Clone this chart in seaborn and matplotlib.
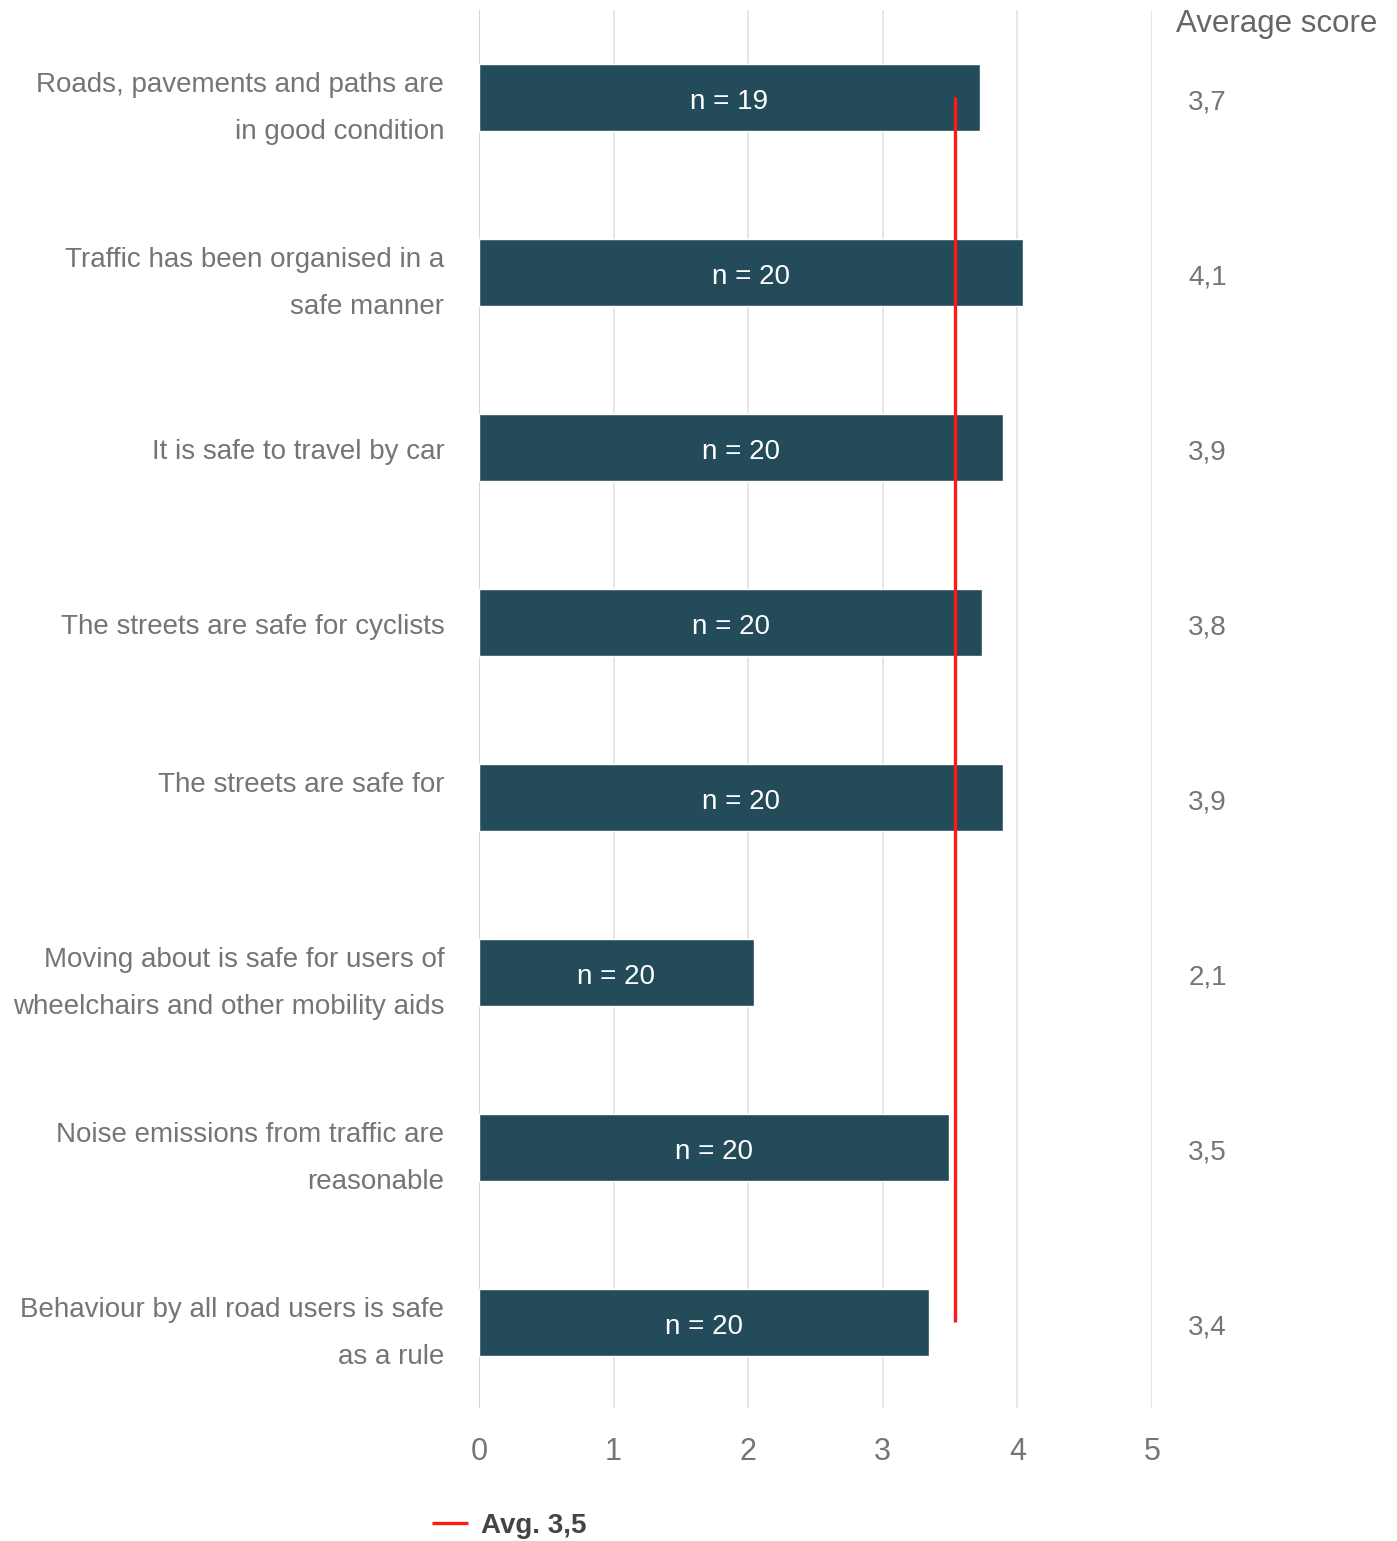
import matplotlib
matplotlib.use("Agg")
import matplotlib.pyplot as plt
import matplotlib.transforms as mtransforms
import seaborn as sns
import pandas as pd

categories = [
    "Roads, pavements and paths are\nin good condition",
    "Traffic has been organised in a\nsafe manner",
    "It is safe to travel by car",
    "The streets are safe for cyclists",
    "The streets are safe for\n",
    "Moving about is safe for users of\nwheelchairs and other mobility aids",
    "Noise emissions from traffic are\nreasonable",
    "Behaviour by all road users is safe\nas a rule",
]
scores = [3.72, 4.04, 3.89, 3.74, 3.89, 2.04, 3.49, 3.34]
score_labels = ["3,7", "4,1", "3,9", "3,8", "3,9", "2,1", "3,5", "3,4"]
n_labels = ["n = 19", "n = 20", "n = 20", "n = 20", "n = 20", "n = 20", "n = 20", "n = 20"]
average = 3.54
average_label = "Avg. 3,5"
x_ticks = [0, 1, 2, 3, 4, 5]

sns.set_theme(style="white")
plt.rcParams["font.family"] = ["Liberation Sans", "DejaVu Sans"]

W, H = 1397, 1541
fig = plt.figure(figsize=(W / 100, H / 100), dpi=100)
ax = fig.add_axes([479 / W, 1 - 1408 / H, (1152 - 479) / W, (1408 - 10) / H])

df = pd.DataFrame({"category": categories, "score": scores})
sns.barplot(data=df, x="score", y="category", orient="h", color="#234b5a",
            saturation=1, width=0.385, ax=ax, zorder=2)

ax.set_xlim(0, 5)
ax.set_ylim(len(categories) - 0.51, -0.5)
ax.set_xticks(x_ticks)
ax.set_xticklabels([str(t) for t in x_ticks], fontsize=22, color="#757575")
ax.set_xlabel("")
ax.set_ylabel("")
for s in ax.spines.values():
    s.set_visible(False)
ax.tick_params(axis="both", length=0)
ax.tick_params(axis="x", pad=21)
ax.tick_params(axis="y", pad=25)

for t in x_ticks:
    ax.axvline(t, color="#c3cfe9" if t == 0 else "#e2e2e2", lw=1.2, zorder=0)

down = mtransforms.ScaledTranslation(0, -5 / 100, fig.dpi_scale_trans)
for lab in ax.get_yticklabels():
    lab.set_fontsize(20)
    lab.set_color("#757575")
    lab.set_linespacing(2.03)
    dy = 2 if "\n" in lab.get_text() else -2
    lab.set_transform(lab.get_transform() +
                      mtransforms.ScaledTranslation(0, dy / 100, fig.dpi_scale_trans))

for i, (v, nl, sl) in enumerate(zip(scores, n_labels, score_labels)):
    ax.text(v / 2, i, nl, ha="center", va="center", color="white", fontsize=20,
            zorder=4, transform=ax.transData + down)
    ax.text(5.27, i, sl, ha="left", va="center", color="#757575", fontsize=20,
            clip_on=False, transform=ax.transData + down)

ax.plot([average, average], [0, len(categories) - 1], color="#ff1a1a", lw=2.4,
        zorder=3, label=average_label, solid_capstyle="butt")

fig.text(1176 / W, 1 - 24 / H, "Average score", ha="left", va="center",
         fontsize=22.5, color="#666666")

leg = fig.legend(loc="center left", bbox_to_anchor=(432 / W, 1 - 1526 / H),
                 frameon=False, fontsize=20, handlelength=1.3, handletextpad=0.45,
                 borderpad=0, borderaxespad=0)
for txt in leg.get_texts():
    txt.set_fontweight("bold")
    txt.set_color("#444444")

fig.savefig("out.png", dpi=100, facecolor="white")
